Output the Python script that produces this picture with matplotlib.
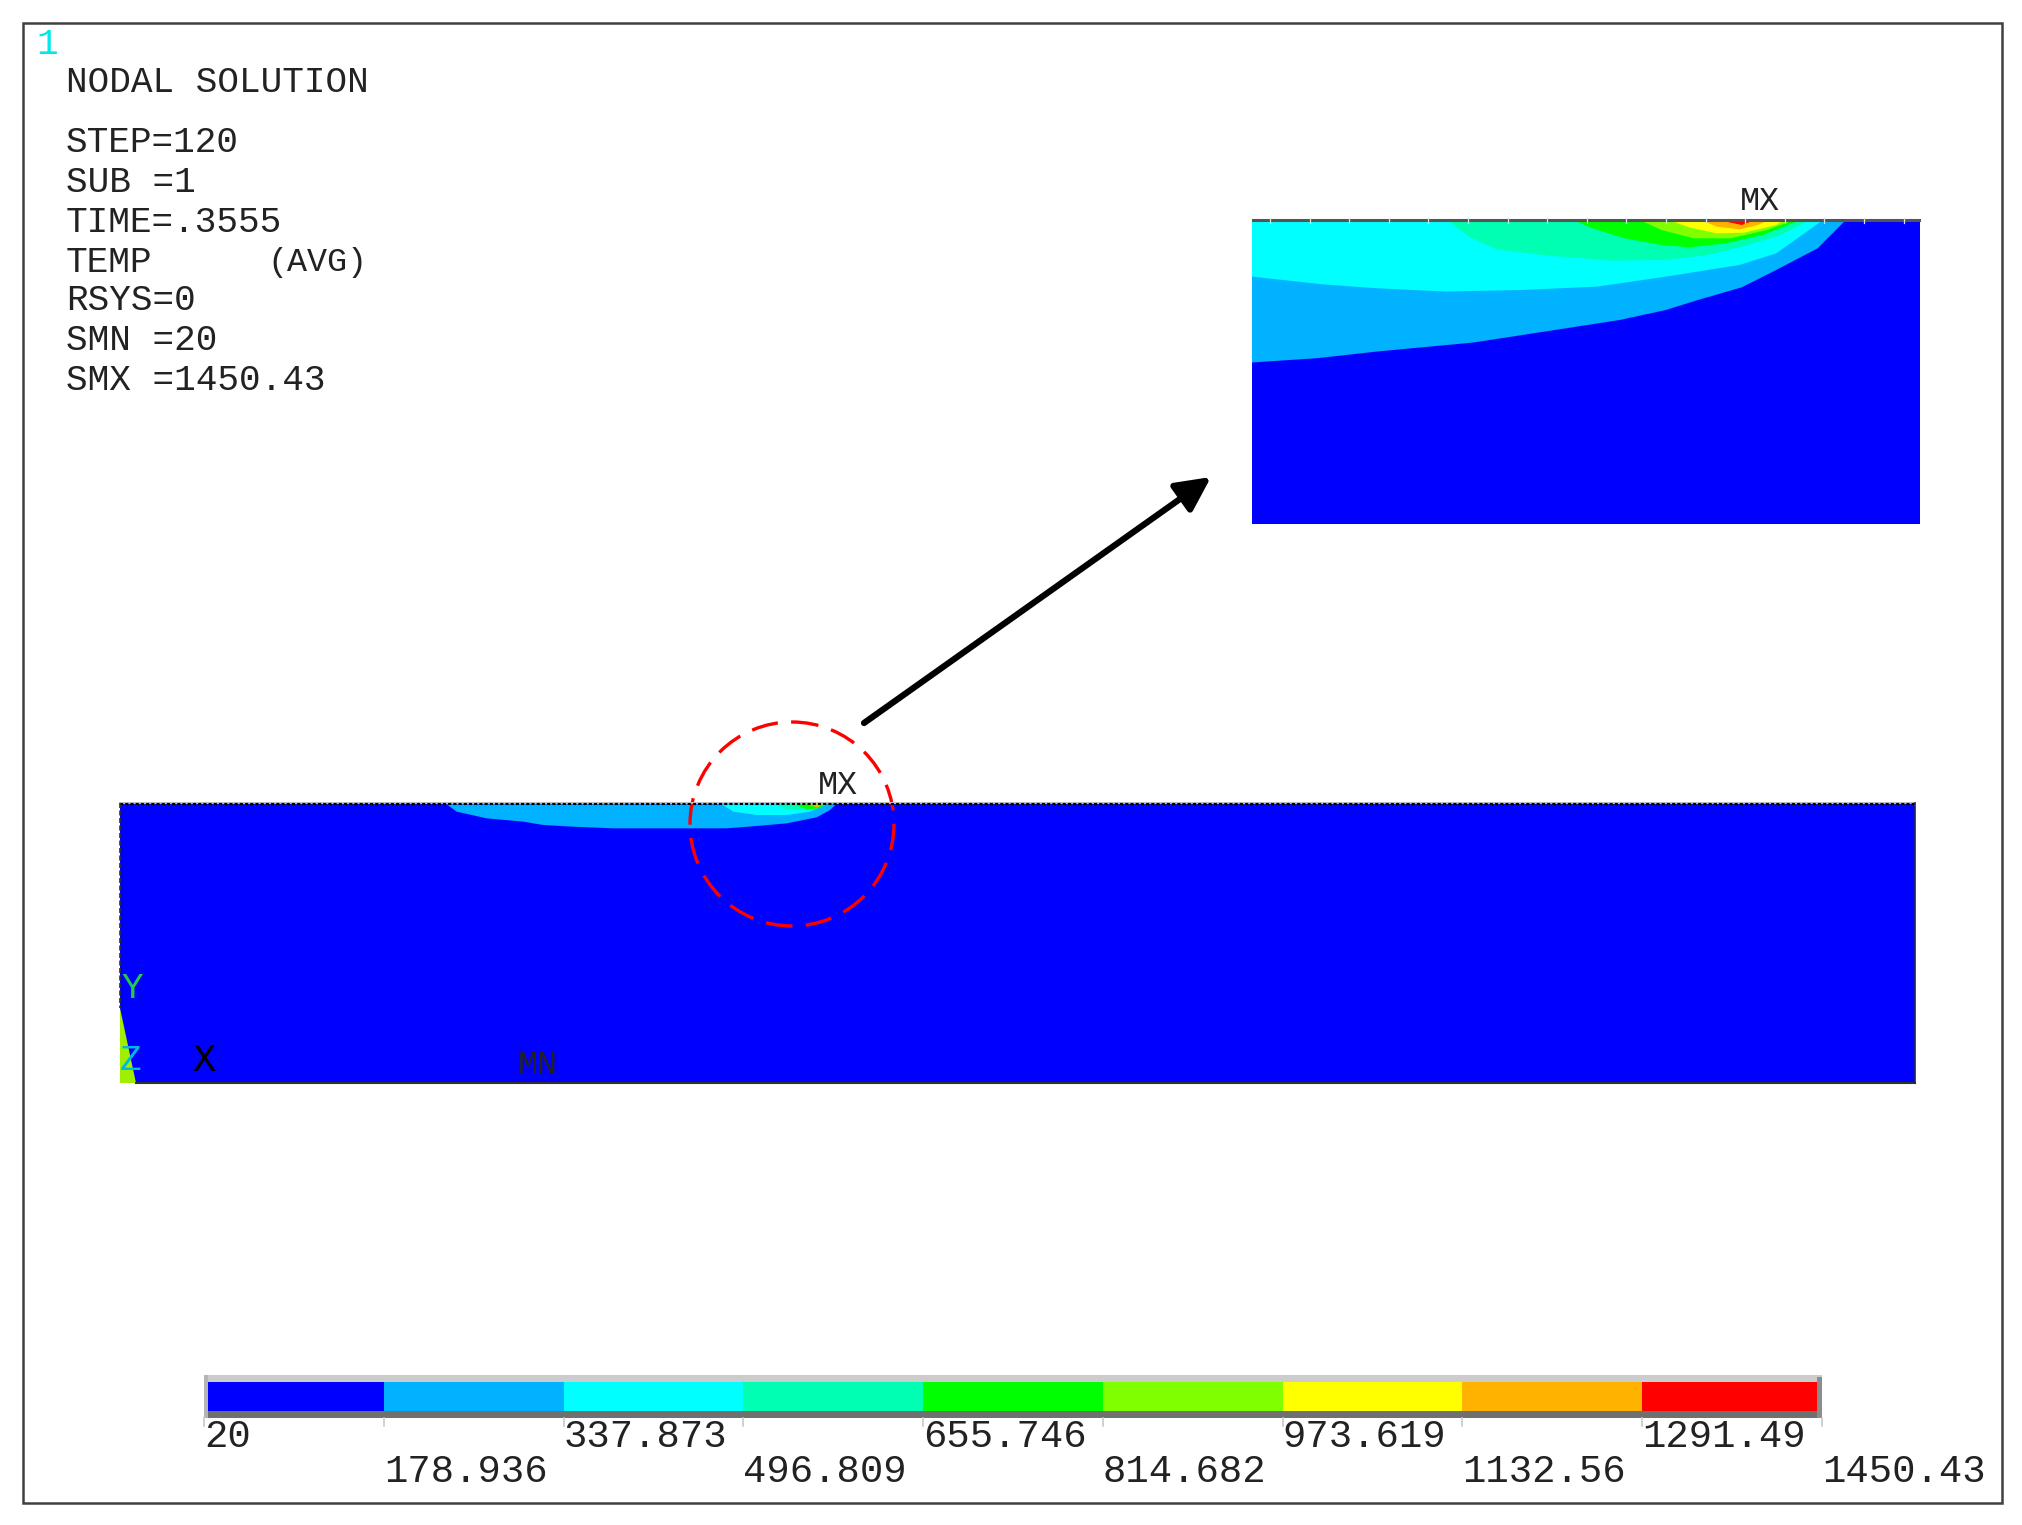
import numpy as np
import matplotlib
matplotlib.use("Agg")
import matplotlib.pyplot as plt
from matplotlib.patches import Circle, Rectangle, FancyArrowPatch
from matplotlib.transforms import blended_transform_factory

W, H = 2022, 1525
MONO = "Liberation Mono"

# ---- data ----
levels = [20, 178.936, 337.873, 496.809, 655.746, 814.682, 973.619, 1132.56, 1291.49, 1450.43]
level_labels = ["20", "178.936", "337.873", "496.809", "655.746", "814.682",
                "973.619", "1132.56", "1291.49", "1450.43"]
band_colors = ["#0000ff", "#00b2ff", "#00ffff", "#00ffb2", "#00ff00",
               "#80ff00", "#ffff00", "#ffb200", "#ff0000"]
header_lines = ["NODAL SOLUTION", "STEP=120", "SUB =1", "TIME=.3555",
                "TEMP", "RSYS=0", "SMN =20", "SMX =1450.43"]

# Zoomed-view isotherm outlines (lower boundary of each band), x then depth
zoom_light_x = [48, 190, 320, 530, 700, 850, 950, 1020, 1115, 1190, 1280, 1340]
zoom_light_y = [578, 565, 545, 518, 482, 450, 420, 390, 352, 300, 235, 152]
zoom_cyan_x = [48, 200, 320, 470, 640, 800, 950, 1110, 1190, 1290]
zoom_cyan_y = [320, 343, 355, 365, 360, 350, 320, 285, 250, 152]
zoom_sea_x = [475, 520, 580, 700, 830, 950, 1040, 1130, 1200, 1260]
zoom_sea_y = [152, 200, 238, 258, 272, 270, 255, 225, 195, 152]
zoom_green_x = [750, 790, 860, 940, 1000, 1080, 1160, 1240]
zoom_green_y = [152, 175, 205, 225, 232, 220, 195, 152]
zoom_lime_x = [895, 940, 1010, 1090, 1170, 1225]
zoom_lime_y = [152, 180, 205, 205, 180, 152]
zoom_yellow_x = [960, 1000, 1060, 1120, 1190, 1205]
zoom_yellow_y = [152, 172, 190, 188, 165, 152]
zoom_orange_x = [1030, 1060, 1110, 1150, 1170]
zoom_orange_y = [152, 170, 178, 165, 152]
zoom_red_x = [1070, 1115, 1140]
zoom_red_y = [152, 165, 152]

# Full-model isotherm outlines
full_light_x = [80, 110, 200, 310, 370, 460, 580, 920, 1010, 1100, 1190, 1230, 1248]
full_light_y = [133, 155, 175, 185, 195, 200, 205, 205, 198, 190, 172, 150, 133]
full_cyan_x = [905, 940, 1010, 1100, 1170, 1220]
full_cyan_y = [133, 155, 165, 165, 155, 133]
full_sea_x = [1070, 1100, 1170, 1225]
full_sea_y = [133, 148, 150, 133]
full_green_x = [1125, 1160, 1200, 1215]
full_green_y = [133, 148, 145, 133]
full_orange_x = [1165, 1190, 1210]
full_orange_y = [133, 142, 133]
wedge_x = [-900, -900, -852]
wedge_y = [744, 969, 969]

fig = plt.figure(figsize=(W / 100, H / 100), dpi=100, facecolor="white")


def px_axes(x0, y0, x1, y1, z=1):
    a = fig.add_axes([x0 / W, 1 - y1 / H, (x1 - x0) / W, (y1 - y0) / H], zorder=z)
    a.set_axis_off()
    return a


# Main model
main = px_axes(120, 803, 1915, 1083, 2)
main.set_xlim(-900, 4485)
main.set_ylim(969, 129)
main.add_patch(Rectangle((-900, 129), 5385, 840, color=band_colors[0], lw=0))
main.fill(wedge_x, wedge_y, color="#9ff000", lw=0)
for xs, ys, i in [(full_light_x, full_light_y, 1), (full_cyan_x, full_cyan_y, 2),
                  (full_sea_x, full_sea_y, 3), (full_green_x, full_green_y, 4),
                  (full_orange_x, full_orange_y, 7)]:
    main.fill(xs, ys, color=band_colors[i], lw=0)

# Zoomed model
inset = px_axes(1252, 219, 1920, 524, 2)
inset.set_xlim(48, 1503)
inset.set_ylim(1063, 147)
inset.add_patch(Rectangle((48, 147), 1455, 916, color=band_colors[0], lw=0))
inset.fill(zoom_light_x + [48], zoom_light_y + [147], color=band_colors[1], lw=0)
inset.fill(zoom_cyan_x + [48], zoom_cyan_y + [147], color=band_colors[2], lw=0)
for xs, ys, i in [(zoom_sea_x, zoom_sea_y, 3), (zoom_green_x, zoom_green_y, 4),
                  (zoom_lime_x, zoom_lime_y, 5), (zoom_yellow_x, zoom_yellow_y, 6),
                  (zoom_orange_x, zoom_orange_y, 7), (zoom_red_x, zoom_red_y, 8)]:
    inset.fill(xs, ys, color=band_colors[i], lw=0)

# Contour legend bar
cax = px_axes(204, 1377, 1822, 1416, 2)
cax.set_xlim(levels[0], levels[-1])
cax.set_ylim(0, 1)
cax.barh(0.5, np.diff(levels), left=levels[:-1], height=1, color=band_colors, linewidth=0)

# Overlay: frame, text, annotation
ov = px_axes(0, 0, W, H, 5)
ov.patch.set_alpha(0)
ov.set_xlim(0, W)
ov.set_ylim(H, 0)
ov.add_patch(Rectangle((23, 23), 1979, 1480, fill=False, ec="#404040", lw=1.8))

# Legend bar bevel
ov.add_patch(Rectangle((204, 1375), 1618, 7, color="#cccccc", lw=0))
ov.add_patch(Rectangle((204, 1411), 1618, 7, color="#707070", lw=0))
ov.add_patch(Rectangle((204, 1375), 4, 43, color="#b5b5b5", lw=0))
ov.add_patch(Rectangle((1817, 1377), 5, 41, color="#8c8c8c", lw=0))

trans = blended_transform_factory(cax.transData, ov.transData)
for i, (v, lab) in enumerate(zip(levels, level_labels)):
    ov.plot([v, v], [1418, 1426], color="#c8c8c8", lw=1.2, transform=trans, clip_on=False)
    ov.text(v, 1437 if i % 2 == 0 else 1472, lab, transform=trans, family=MONO,
            fontsize=28, color="#222222", ha="left", va="center")

# Header
ov.text(36, 44, "1", family=MONO, fontsize=26, color="#00e8e8", ha="left", va="center")
header_y = [83, 143, 183, 222, 262, 301, 341, 381]
for y, s in zip(header_y, header_lines):
    ov.text(66, y, s, family=MONO, fontsize=26, color="#222222", ha="left", va="center")
ov.text(267, 262, "(AVG)", family=MONO, fontsize=24, color="#222222", ha="left", va="center")

# Model edges
ov.plot([120, 1915], [803, 803], color="#c0c0c0", lw=1.5)
ov.plot([120, 1915], [803.5, 803.5], color="black", lw=1.5, ls=(0, (1.5, 1)))
ov.plot([120, 120], [803, 1008], color="#303030", lw=1.2, ls=(0, (3, 1.5)))
ov.plot([136, 1915], [1083, 1083], color="#303030", lw=1.5)
ov.plot([1915, 1915], [803, 1083], color="#202060", lw=1.2)
ov.plot([1253, 1919], [220, 220], color="#555555", lw=2.2)
for x in np.arange(1270, 1919, 39.6):
    ov.plot([x, x], [218, 223], color="#d0e8e0", lw=0.9)

# Labels
ov.text(838, 786, "MX", family=MONO, fontsize=24, color="#222222", ha="center", va="center")
ov.text(1760, 201, "MX", family=MONO, fontsize=24, color="#222222", ha="center", va="center")
ov.text(538, 1065, "MN", family=MONO, fontsize=24, color="#222222", ha="center", va="center")
ov.text(132, 988, "Y", family=MONO, fontsize=26, color="#22cc44", ha="center", va="center")
ov.text(131, 1061, "Z", family=MONO, fontsize=26, color="#00b8e0", ha="center", va="center")
ov.text(204, 1061, "X", family=MONO, fontsize=28, color="black", ha="center", va="center")

# Circle and arrow
ov.add_patch(Circle((792, 824), 102, fill=False, ec="#ff0000", lw=2.4, ls=(0, (8, 4))))
ov.add_patch(FancyArrowPatch((864, 723), (1211, 477), arrowstyle="-|>", mutation_scale=52,
                             color="black", lw=4.5, shrinkA=0, shrinkB=0))

fig.savefig("out.png", dpi=100)
